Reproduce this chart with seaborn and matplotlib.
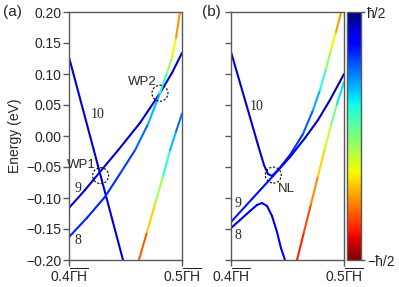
import numpy as np
import matplotlib
matplotlib.use("Agg")
import matplotlib.pyplot as plt
import seaborn as sns
from matplotlib.collections import LineCollection
from matplotlib.patches import Ellipse
from matplotlib.colors import Normalize
from matplotlib.cm import ScalarMappable

# ====================== data (k in units of Gamma-H, E in eV, spin in hbar/2) ======================
# panel (a)
a10_k = [0.400, 0.422, 0.4478]
a10_e = [0.127, -0.023, -0.200]
a10_s = [0.85, 0.85, 0.85]

a9_k = [0.400, 0.4142, 0.4274, 0.4434, 0.4628, 0.4805, 0.4912, 0.500]
a9_e = [-0.116, -0.087, -0.058, -0.023, 0.021, 0.069, 0.102, 0.134]
a9_s = [0.85, 0.85, 0.85, 0.85, 0.85, 0.85, 0.85, 0.85]

a8_k = [0.400, 0.4159, 0.4319, 0.4451, 0.4584, 0.4699, 0.4805, 0.4867, 0.4912, 0.4947, 0.4982]
a8_e = [-0.163, -0.132, -0.098, -0.061, -0.023, 0.019, 0.069, 0.102, 0.127, 0.158, 0.200]
a8_s = [0.68, 0.68, 0.68, 0.66, 0.6, 0.48, 0.3, 0.05, -0.2, -0.4, -0.6]

aC_k = [0.4619, 0.4690, 0.4761, 0.4832, 0.4894, 0.4947, 0.500]
aC_e = [-0.200, -0.155, -0.110, -0.065, -0.023, 0.007, 0.036]
aC_s = [-0.75, -0.5, -0.25, 0.05, 0.3, 0.45, 0.6]

# panel (b)
b10_k = [0.400, 0.4124, 0.4239, 0.4292, 0.4327, 0.4363, 0.4416, 0.4522, 0.4637,
         0.4726, 0.4788, 0.4841, 0.4885, 0.4929, 0.4973]
b10_e = [0.1355, 0.0581, -0.0145, -0.0468, -0.0613, -0.0645, -0.0548, -0.0306, 0.0032,
         0.0419, 0.0742, 0.1081, 0.1387, 0.1677, 0.1984]
b10_s = [0.85, 0.85, 0.85, 0.85, 0.82, 0.78, 0.72, 0.68, 0.62,
         0.5, 0.3, 0.05, -0.2, -0.4, -0.6]

b9_k = [0.400, 0.4186, 0.4372, 0.4522, 0.4655, 0.4770, 0.4876, 0.500]
b9_e = [-0.1387, -0.1016, -0.0645, -0.0339, -0.0032, 0.0258, 0.0581, 0.100]
b9_s = [0.7, 0.7, 0.75, 0.8, 0.85, 0.9, 0.9, 0.9]

b8_k = [0.400, 0.4080, 0.4168, 0.4230, 0.4274, 0.4319, 0.4363, 0.4407, 0.4442, 0.4478]
b8_e = [-0.1484, -0.1355, -0.1210, -0.1113, -0.1081, -0.1129, -0.1290, -0.1548, -0.1806, -0.200]
b8_s = [0.8] * 10

bC_k = [0.4584, 0.4646, 0.4708, 0.4770, 0.4832, 0.4885, 0.4938, 0.500]
bC_e = [-0.200, -0.1548, -0.1097, -0.0645, -0.0194, 0.0177, 0.0516, 0.0871]
bC_s = [-0.8, -0.7, -0.6, -0.45, -0.28, -0.1, 0.15, 0.45]

bands_a = [(a10_k, a10_e, a10_s), (a9_k, a9_e, a9_s), (a8_k, a8_e, a8_s), (aC_k, aC_e, aC_s)]
bands_b = [(b10_k, b10_e, b10_s), (b9_k, b9_e, b9_s), (b8_k, b8_e, b8_s), (bC_k, bC_e, bC_s)]

# band index labels: (k, E, text)
labels_a = [(0.4252, 0.034, "10"), (0.4080, -0.084, "9"), (0.4080, -0.169, "8")]
labels_b = [(0.4230, 0.047, "10"), (0.4065, -0.109, "9"), (0.4065, -0.160, "8")]

# special points: (k, E) circle centre, (k, E) text position, text
points_a = [((0.4280, -0.064), (0.4106, -0.047), "WP1"),
            ((0.4805, 0.069), (0.4650, 0.087), "WP2")]
points_b = [((0.4374, -0.063), (0.4491, -0.0855), "NL")]

yticks = [-0.20, -0.15, -0.10, -0.05, 0.00, 0.05, 0.10, 0.15, 0.20]
ytick_labels = ["\u22120.20", "\u22120.15", "\u22120.10", "\u22120.05", "0.00",
                "0.05", "0.10", "0.15", "0.20"]
xticks = [0.4, 0.5]
xtick_labels = [r"0.4$\overline{\mathrm{\Gamma H}}$", r"0.5$\overline{\mathrm{\Gamma H}}$"]

# ====================== style ======================
sns.set_theme(style="ticks")
plt.rcParams['font.family'] = ['Liberation Sans', 'DejaVu Sans']
plt.rcParams['mathtext.fontset'] = 'custom'
plt.rcParams['mathtext.rm'] = 'Liberation Sans'
plt.rcParams['mathtext.it'] = 'Liberation Sans:italic'

cmap = plt.get_cmap('jet_r')
norm = Normalize(vmin=-1, vmax=1)
spine_col = '0.35'

W, H = 399, 287
fig = plt.figure(figsize=(W / 100, H / 100), dpi=100)
ax_a = fig.add_axes([69 / W, 27 / H, 113 / W, 248 / H])
ax_b = fig.add_axes([231 / W, 27 / H, 113 / W, 248 / H])
cax = fig.add_axes([347 / W, 27 / H, 14 / W, 248 / H])


def draw_band(ax, k, e, s):
    pts = np.column_stack([k, e])
    segs = np.stack([pts[:-1], pts[1:]], axis=1)
    s = np.asarray(s)
    cols = cmap(norm((s[:-1] + s[1:]) / 2))
    lc = LineCollection(segs, colors=cols, linewidths=1.5, capstyle='round', joinstyle='round')
    ax.add_collection(lc)


def circle(ax, xy):
    # 16 px wide circle in pixel space
    w = 16 / 1130
    h = 16 / 620
    ax.add_patch(Ellipse(xy, w, h, fill=False, ec='black', lw=0.8, ls=(0, (2, 1.5)), zorder=5))


for ax, bands, labs, pts in [(ax_a, bands_a, labels_a, points_a), (ax_b, bands_b, labels_b, points_b)]:
    for k, e, s in bands:
        draw_band(ax, k, e, s)
    for x, y, t in labs:
        ax.text(x, y, t, family='Liberation Serif', fontsize=10, ha='center', va='center')
    for c, tp, t in pts:
        circle(ax, c)
        ax.text(tp[0], tp[1], t, fontsize=9.5, ha='center', va='center', zorder=6)
    ax.set_xlim(0.4, 0.5)
    ax.set_ylim(-0.2, 0.2)
    ax.set_xticks(xticks)
    ax.set_xticklabels(xtick_labels)
    ax.set_yticks(yticks)
    for sp in ax.spines.values():
        sp.set_color(spine_col)
        sp.set_linewidth(1.0)
    ax.tick_params(direction='out', length=4, width=1, color=spine_col, labelsize=10, pad=1.5)

ax_a.set_yticklabels(ytick_labels)
ax_a.set_ylabel("Energy (eV)", fontsize=10, labelpad=3)
ax_b.set_yticklabels([])

cb = fig.colorbar(ScalarMappable(norm=norm, cmap=cmap), cax=cax)
cb.set_ticks([-1, 1])
cb.set_ticklabels(["\u2212\u0127/2", "\u0127/2"])
cb.outline.set_edgecolor(spine_col)
cb.outline.set_linewidth(1.0)
cax.tick_params(direction='out', length=3, width=1, color=spine_col, labelsize=10, pad=1.5)

fig.text(3 / W, 1 - 12 / H, "(a)", fontsize=11, ha='left', va='center')
fig.text(202 / W, 1 - 12 / H, "(b)", fontsize=11, ha='left', va='center')

fig.savefig("out.png", dpi=100)
